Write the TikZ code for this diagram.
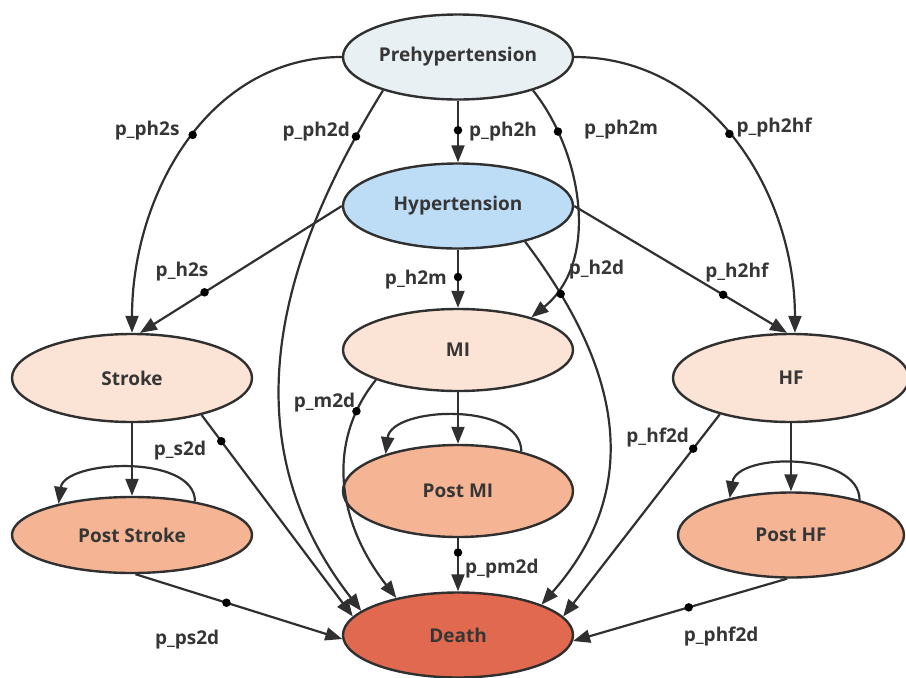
\documentclass[tikz,border=0pt]{standalone}
\usepackage{fontspec}
\setmainfont{Open Sans}
\usetikzlibrary{shapes.geometric,arrows.meta}
\definecolor{inkgray}{HTML}{303030}
\definecolor{txtgray}{HTML}{363636}
\definecolor{prefill}{HTML}{E9F0F4}
\definecolor{hypfill}{HTML}{BDDDF6}
\definecolor{evtfill}{HTML}{FBE3D6}
\definecolor{postfill}{HTML}{F5B595}
\definecolor{deathfill}{HTML}{E0694F}
\tikzset{
  state/.style={ellipse,draw=inkgray,line width=2.4pt,minimum width=230pt,
    minimum height=85pt,inner sep=0pt,text=txtgray,
    font=\fontsize{19}{21}\selectfont\bfseries},
  trans/.style={draw=inkgray,line width=2.2pt,-{Triangle[length=17pt,width=13pt]}},
  pdot/.style={circle,fill=black,inner sep=0pt,minimum size=8.5pt},
  plabel/.style={inner sep=0pt,text=txtgray,font=\fontsize{19}{21}\selectfont\bfseries},
}
\begin{document}
\begin{tikzpicture}[x=1pt,y=1pt]
            \useasboundingbox (0,0) rectangle (906,-678);
            % states
            \node[state,fill=prefill] (pre) at (458,-57) {Prehypertension};
            \node[state,fill=hypfill] (hyp) at (458,-206) {Hypertension};
            \node[state,fill=evtfill,minimum width=240pt,minimum height=88pt]
                (stroke) at (132,-378) {Stroke};
            \node[state,fill=evtfill,minimum height=82pt] (mi) at (458,-350) {MI};
            \node[state,fill=evtfill,minimum width=236pt,minimum height=88pt]
                (hf) at (791,-378) {HF};
            \node[state,fill=postfill,minimum width=240pt,minimum height=76pt]
                (pstroke) at (132,-535) {Post Stroke};
            \node[state,fill=postfill,minimum height=92pt] (pmi) at (458,-491) {Post MI};
            \node[state,fill=postfill,minimum width=226pt] (phf) at (791,-535) {Post HF};
            \node[state,fill=deathfill] (death) at (458,-635) {Death};
            % from prehypertension
            \draw[trans] (pre.west) to[out=180,in=90]
                node[pdot,pos=0.47] (dph2s) {} (stroke.north);
            \draw[trans] (pre.204) .. controls +(-93,-150) and +(-142,182) ..
                node[pdot,pos=0.1] (dph2d) {} (death.166);
            \draw[trans] (pre.south) --
                node[pdot,pos=0.48] (dph2h) {} (hyp.north);
            \draw[trans] (pre.336) .. controls +(48,-60) and +(70,57) ..
                node[pdot,pos=0.2] (dph2m) {} (mi.24);
            \draw[trans] (pre.east) to[out=0,in=90]
                node[pdot,pos=0.47] (dph2hf) {} (hf.85);
            % from hypertension
            \draw[trans] (hyp.west) --
                node[pdot,pos=0.68] (dh2s) {} (stroke.80);
            \draw[trans] (hyp.south) --
                node[pdot,pos=0.47] (dh2m) {} (mi.north);
            \draw[trans] (hyp.332) .. controls +(87,-115) and +(110,125) ..
                node[pdot,pos=0.15] (dh2d) {} (death.20);
            \draw[trans] (hyp.east) --
                node[pdot,pos=0.7] (dh2hf) {} (hf.95);
            % stroke branch
            \draw[trans] (stroke.south) -- (pstroke.north);
            \draw[trans] (stroke.332) --
                node[pdot,pos=0.13] (ds2d) {} (death.170);
            \draw[trans] (pstroke.28) .. controls +(0,48) and +(6,44) .. (pstroke.157);
            \draw[trans] (pstroke.275) --
                node[pdot,pos=0.44] (dps2d) {} (death.182);
            % MI branch
            \draw[trans] (mi.south) -- (pmi.north);
            \draw[trans] (mi.200) .. controls +(-47,-58) and +(-63,81) ..
                node[pdot,pos=0.17] (dm2d) {} (death.149);
            \draw[trans] (pmi.32) .. controls +(0,50) and +(6,48) .. (pmi.153);
            \draw[trans] (pmi.south) --
                node[pdot,pos=0.27] (dpm2d) {} (death.north);
            % HF branch
            \draw[trans] (hf.south) -- (phf.north);
            \draw[trans] (hf.207) --
                node[pdot,pos=0.17] (dhf2d) {} (death.10);
            \draw[trans] (phf.27) .. controls +(0,48) and +(8,46) .. (phf.149);
            \draw[trans] (phf.265) --
                node[pdot,pos=0.46] (dphf2d) {} (death.357);
            % probability labels
            \node[plabel,anchor=east] (lph2s) at ([shift={(-13,4)}]dph2s) {p\_ph2s};
            \node[plabel,anchor=east] (lph2d) at ([shift={(-6,5)}]dph2d) {p\_ph2d};
            \node[plabel,anchor=west] (lph2h) at ([shift={(11,-1)}]dph2h) {p\_ph2h};
            \node[plabel,anchor=west] (lph2m) at ([shift={(26,2)}]dph2m) {p\_ph2m};
            \node[plabel,anchor=west] (lph2hf) at ([shift={(7,6)}]dph2hf) {p\_ph2hf};
            \node[plabel,anchor=east] (lh2s) at ([shift={(4,21)}]dh2s) {p\_h2s};
            \node[plabel,anchor=east] (lh2m) at ([shift={(-11,-3)}]dh2m) {p\_h2m};
            \node[plabel,anchor=west] (lh2d) at ([shift={(8,24)}]dh2d) {p\_h2d};
            \node[plabel,anchor=west] (lh2hf) at ([shift={(-18,22)}]dh2hf) {p\_h2hf};
            \node[plabel,anchor=east] (lm2d) at ([shift={(-1,9)}]dm2d) {p\_m2d};
            \node[plabel,anchor=east] (ls2d) at ([shift={(-15,-9)}]ds2d) {p\_s2d};
            \node[plabel,anchor=east] (lhf2d) at ([shift={(-4,11)}]dhf2d) {p\_hf2d};
            \node[plabel,anchor=west] (lpm2d) at ([shift={(7,-16)}]dpm2d) {p\_pm2d};
            \node[plabel,anchor=east] (lps2d) at ([shift={(-7,-37)}]dps2d) {p\_ps2d};
            \node[plabel,anchor=west] (lphf2d) at ([shift={(-5,-29)}]dphf2d) {p\_phf2d};
\end{tikzpicture}
\end{document}
